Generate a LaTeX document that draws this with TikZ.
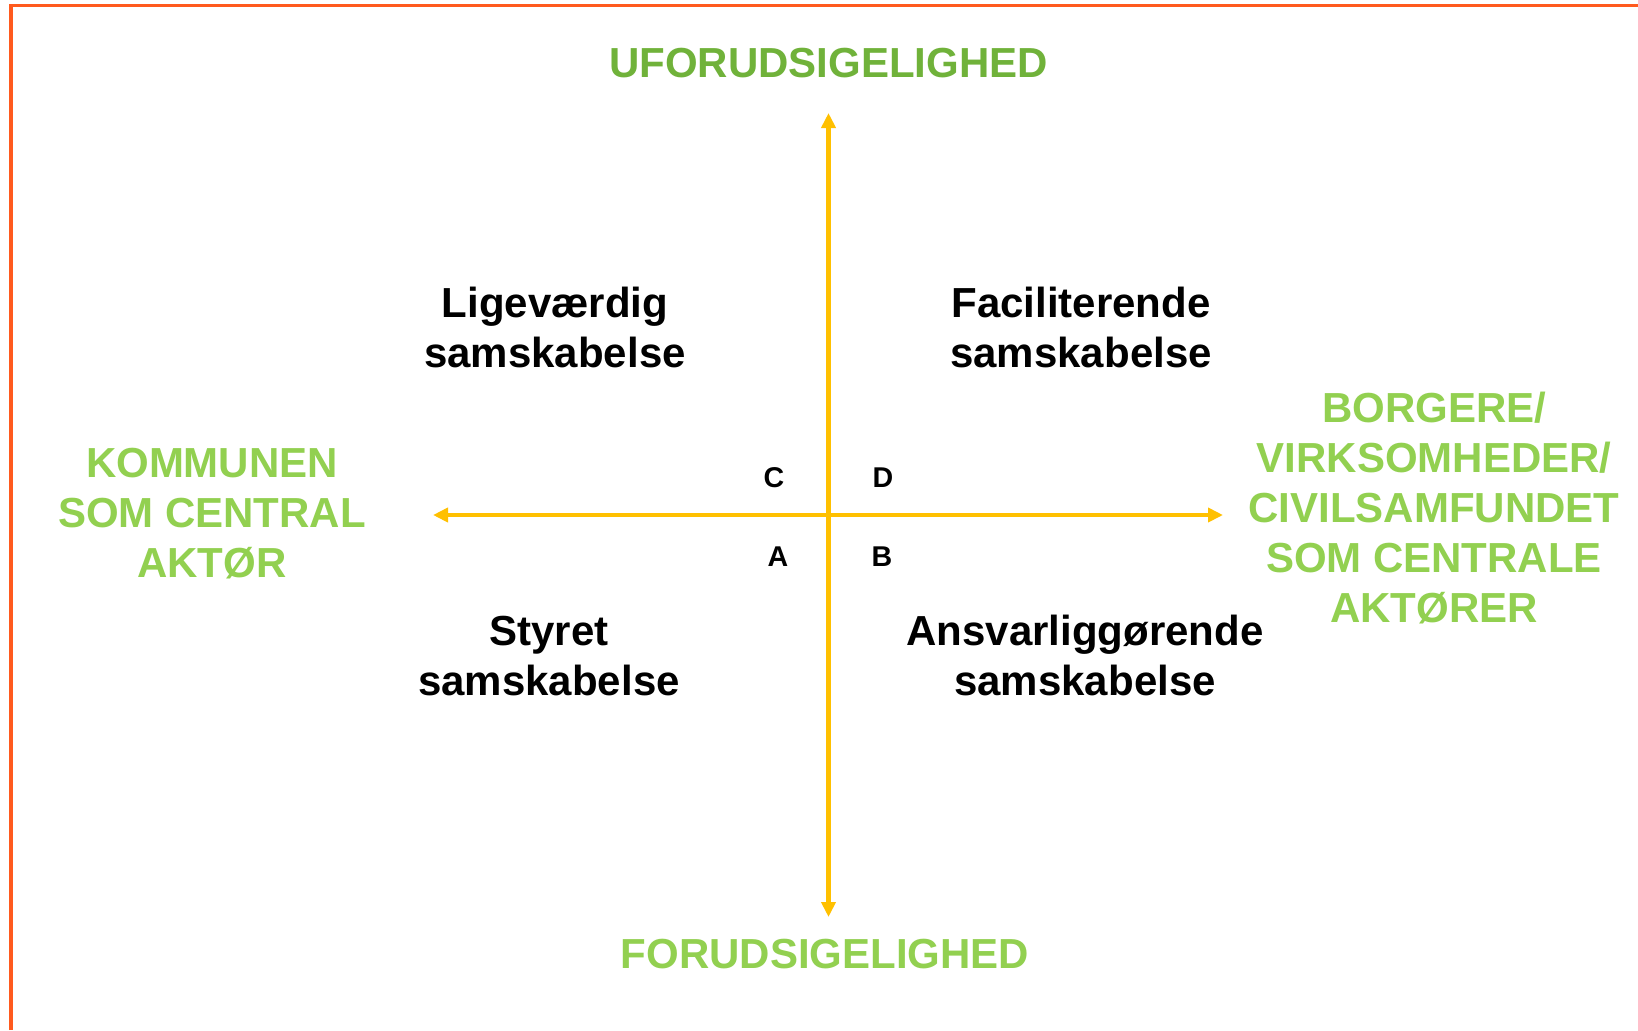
\documentclass[tikz,border=0pt]{standalone}
\usepackage{fontspec}
\setmainfont{Liberation Sans}
\usetikzlibrary{arrows.meta}
\definecolor{axisc}{HTML}{FFC000}
\definecolor{darkg}{RGB}{112,178,58}
\definecolor{lightg}{HTML}{92D050}
\definecolor{borderc}{HTML}{FF5A1E}
\begin{document}
\begin{tikzpicture}[x=0.5pt,y=-0.5pt,
  big/.style={font=\fontsize{21}{25}\selectfont\bfseries, inner sep=0pt, align=center, anchor=base},
  quad/.style={big, text=black},
  letter/.style={font=\fontsize{14.3}{16}\selectfont\bfseries, inner sep=0pt, anchor=base, text=black},
  axisline/.style={draw=axisc, line width=2.2pt, {Triangle[length=7.5pt,width=7pt]}-{Triangle[length=7.5pt,width=7pt]}},
  frame/.style={draw=borderc, line width=1.6pt}]
\useasboundingbox (0,0) rectangle (1638,1030);
\fill[white] (0,0) rectangle (1638,1030);
\draw[frame] (11,1030) -- (11,5.5) -- (1638,5.5);

\coordinate (L) at (433,515);
\coordinate (R) at (1223,515);
\coordinate (T) at (828.5,113);
\coordinate (B) at (828.5,917);
\draw[axisline] (L) -- (R);
\draw[axisline] (T) -- (B);

\node[big, text=darkg] (top) at (828.5,77) {UFORUDSIGELIGHED};
\node[big, text=lightg] (bottom) at (825,968) {FORUDSIGELIGHED};
\node[big, text=lightg] (left) at (212,577.5) {KOMMUNEN\\SOM CENTRAL\\AKTØR};
\node[big, text=lightg] (right) at (1434,622) {BORGERE/\\VIRKSOMHEDER/\\CIVILSAMFUNDET\\SOM CENTRALE\\AKTØRER};

\node[quad] (lig) at (555,367) {Ligeværdig\\samskabelse};
\node[quad] (fac) at (1081,367) {Faciliterende\\samskabelse};
\node[quad] (sty) at (549,695) {Styret\\samskabelse};
\node[quad] (ans) at (1085,695) {Ansvarliggørende\\samskabelse};

\node[letter] (c) at (774,487) {C};
\node[letter] (d) at (883,487) {D};
\node[letter] (a) at (778,566) {A};
\node[letter] (b) at (882,566) {B};
\end{tikzpicture}
\end{document}
